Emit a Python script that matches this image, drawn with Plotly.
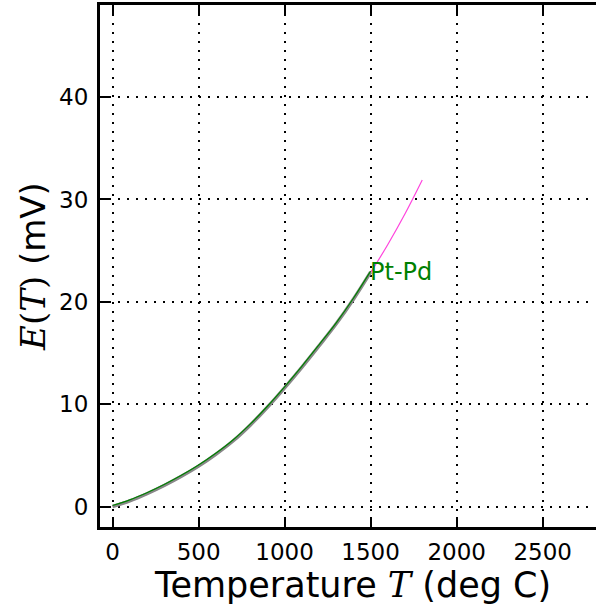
import plotly.graph_objects as go

# Data
temp_meas = [0, 100, 200, 300, 400, 500, 600, 700, 800, 900, 1000, 1100, 1200, 1300, 1400, 1500]
emf_meas = [0.0, 0.55, 1.25, 2.05, 2.95, 3.95, 5.1, 6.4, 7.95, 9.7, 11.6, 13.6, 15.7, 17.85, 20.25, 22.9]
temp_fit = [0, 100, 200, 300, 400, 500, 600, 700, 800, 900, 1000, 1100, 1200, 1300, 1400, 1500, 1600, 1700, 1800]
emf_fit = [0.0, 0.5, 1.2, 2.0, 2.9, 3.9, 5.05, 6.35, 7.9, 9.65, 11.55, 13.55, 15.65, 17.8, 20.2, 22.85, 25.6, 28.6, 31.9]
label_text = "Pt-Pd"
x_ticks = [0, 500, 1000, 1500, 2000, 2500]
y_ticks = [0, 10, 20, 30, 40]
x_range = [-73, 2810]

fig = go.Figure()
fig.add_trace(go.Scatter(x=temp_fit, y=emf_fit, mode="lines",
                         line=dict(color="#ff44dd", width=1.2, shape="spline"), showlegend=False))
fig.add_trace(go.Scatter(x=temp_meas, y=emf_meas, mode="lines",
                         line=dict(color="#888888", width=3.5, shape="spline"), showlegend=False))
fig.add_trace(go.Scatter(x=temp_meas, y=[v + 0.1 for v in emf_meas], mode="lines",
                         line=dict(color="#008000", width=1.2, shape="spline"), showlegend=False))

fig.add_annotation(x=temp_meas[-1], y=emf_meas[-1], text=label_text, showarrow=False,
                   xanchor="left", yanchor="middle", xshift=-3,
                   font=dict(family="DejaVu Sans", size=24, color="#008000"))

fig.add_annotation(x=(352 - 100) / 496, y=-(585 - 527) / 522, xref="paper", yref="paper",
                   xanchor="center", yanchor="middle",
                   text="Temperature <span style='font-family:DejaVu Serif'><i>T</i></span> (deg C)",
                   showarrow=False, font=dict(family="DejaVu Sans", size=35, color="black"))

# the reference's plot area runs off the right edge of the picture: no right frame line
fig.add_shape(type="rect", xref="paper", yref="paper", x0=0.992, x1=1.01, y0=0.006, y1=0.994,
              fillcolor="white", line=dict(width=0), layer="above")

axis_style = dict(zeroline=False, showline=True, linecolor="black", linewidth=3,
                  ticks="inside", ticklen=10, tickwidth=1.5, tickcolor="black",
                  tickfont=dict(family="DejaVu Sans", size=23, color="black"))
grid = dict(showgrid=True, gridcolor="black", griddash="2px,7px", gridwidth=1.5)

fig.update_layout(
    width=596, height=609,
    margin=dict(l=100, r=0, t=5, b=82),
    plot_bgcolor="white", paper_bgcolor="white",
    xaxis=dict(range=x_range, tickvals=x_ticks, mirror=False, ticklabelstandoff=2,
               **grid, **axis_style),
    xaxis2=dict(range=x_range, tickvals=x_ticks, overlaying="x", side="top",
                showgrid=False, showticklabels=False, **axis_style),
    yaxis=dict(range=[-2, 49], tickvals=y_ticks, mirror=False, ticklabelstandoff=4, **grid, **axis_style,
               title=dict(text="<span style='font-family:DejaVu Serif'><i>E</i>(<i>T</i>)</span> (mV)",
                          font=dict(family="DejaVu Sans", size=34, color="black"), standoff=4)),
)
# invisible helper trace to activate the top axis
fig.add_trace(go.Scatter(x=[], y=[], xaxis="x2", showlegend=False))

fig.write_html("out.html", config={"displayModeBar": False})

# remove the default page margin so the figure sits at the window's top-left corner
with open("out.html", encoding="utf-8") as f:
    html = f.read()
html = html.replace("<head>", "<head><style>html,body{margin:0;padding:0;overflow:hidden;}</style>", 1)
with open("out.html", "w", encoding="utf-8") as f:
    f.write(html)
